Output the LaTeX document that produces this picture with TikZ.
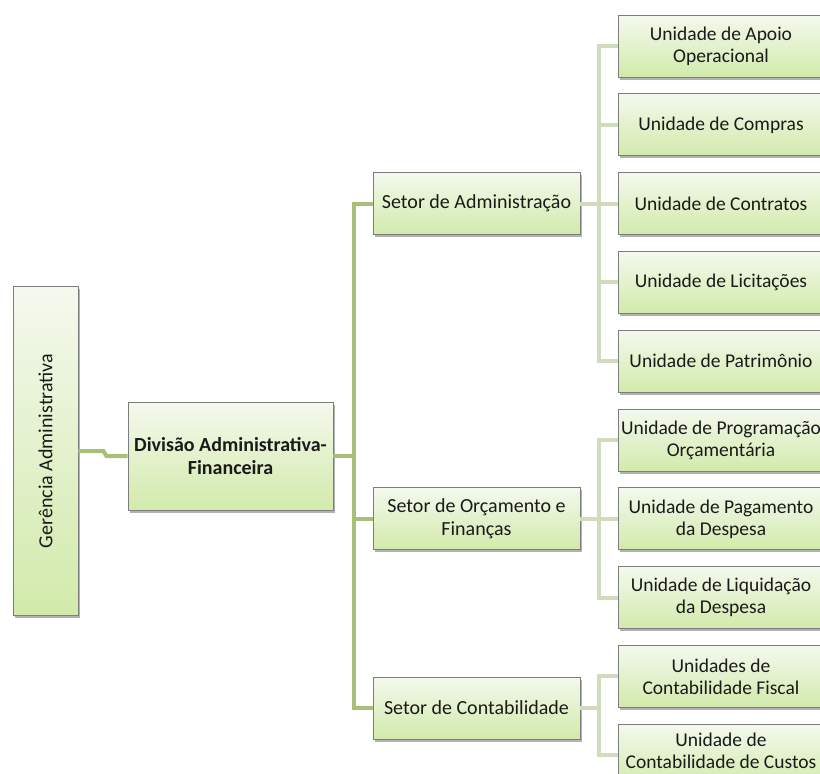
\documentclass[tikz,border=0pt]{standalone}
\usepackage{fontspec}
\setmainfont{Carlito}
\usetikzlibrary{positioning, shadows}
\definecolor{ink}{HTML}{1A1A1A}
\definecolor{edge}{HTML}{7D7D7D}
\definecolor{boxtop}{HTML}{F4F9EE}
\definecolor{boxbottom}{HTML}{D2EAAB}
\definecolor{mainline}{HTML}{A6C177}
\definecolor{subline}{HTML}{CFDCBD}
\tikzset{
  box/.style={
    draw=edge,
    line width=0.8pt,
    top color=boxtop,
    bottom color=boxbottom,
    align=center,
    inner sep=2pt,
    text=ink,
    font=\fontsize{20}{23}\selectfont,
    drop shadow={shadow xshift=1.5pt, shadow yshift=-2.5pt, fill=black, opacity=0.3}
  },
  head/.style={box, minimum width=65pt, minimum height=329pt},
  division/.style={box, font=\fontsize{20}{23}\selectfont\bfseries, minimum width=205pt, minimum height=108pt},
  sector/.style={box, minimum width=207pt, minimum height=62pt},
  unit/.style={box, font=\fontsize{19.5}{22}\selectfont, minimum width=206pt, minimum height=62pt},
  link/.style={draw=mainline, line width=4pt},
  sublink/.style={draw=subline, line width=4pt}
}

\begin{document}
\begin{tikzpicture}[x=1pt, y=-1pt, node distance=16pt]

\useasboundingbox (0,0) rectangle (820,774);
\clip (0,0) rectangle (820,774);

% left side
\node[head] (ger) at (45.5,451) {\rotatebox{90}{Gerência Administrativa}};
\node[division] (div) at (230.5,456) {Divisão Administrativa-\\Financeira};

% units
\node[unit] (apoio) at (721,46) {Unidade de Apoio\\Operacional};
\node[unit, below=of apoio] (compras) {Unidade de Compras};
\node[unit, below=of compras] (contratos) {Unidade de Contratos};
\node[unit, below=of contratos] (licit) {Unidade de Licitações};
\node[unit, below=of licit] (patrim) {Unidade de Patrimônio};
\node[unit, below=of patrim] (prog) {Unidade de Programação\\Orçamentária};
\node[unit, below=of prog] (pagto) {Unidade de Pagamento\\da Despesa};
\node[unit, below=of pagto] (liquid) {Unidade de Liquidação\\da Despesa};
\node[unit, below=of liquid] (fiscal) {Unidades de\\Contabilidade Fiscal};
\node[unit, below=of fiscal, text depth=9pt] (custos) {Unidade de\\Contabilidade de Custos};

% sectors
\node[sector] (adm) at (476.5,0 |- contratos) {Setor de Administração};
\node[sector] (orc) at (476.5,0 |- pagto) {Setor de Orçamento e\\Finanças};
\node[sector] (cont) at (476.5,708) {Setor de Contabilidade};

% connectors
\draw[link] (ger.east) -- ++(25,0) -- ++(3,5) -- (div.west);
\draw[link] (div.east) -- ++(21,0) |- (adm.west);
\draw[link] (div.east) -- ++(21,0) |- (orc.west);
\draw[link] (div.east) -- ++(21,0) |- (cont.west);

\draw[sublink] (adm.east) -- ++(19,0) |- (apoio.west);
\draw[sublink] (adm.east) -- ++(19,0) |- (compras.west);
\draw[sublink] (adm.east) -- ++(19,0) |- (contratos.west);
\draw[sublink] (adm.east) -- ++(19,0) |- (licit.west);
\draw[sublink] (adm.east) -- ++(19,0) |- (patrim.west);
\draw[sublink] (orc.east) -- ++(19,0) |- (prog.west);
\draw[sublink] (orc.east) -- ++(19,0) |- (pagto.west);
\draw[sublink] (orc.east) -- ++(19,0) |- (liquid.west);
\draw[sublink] (cont.east) -- ++(19,0) |- (fiscal.west);
\draw[sublink] (cont.east) -- ++(19,0) |- (custos.west);

\end{tikzpicture}
\end{document}
